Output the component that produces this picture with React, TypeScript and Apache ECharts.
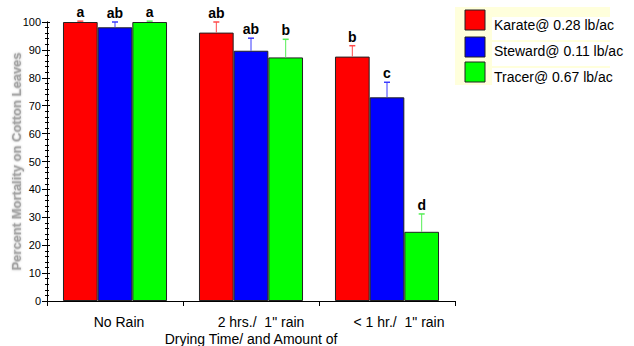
import React, { useEffect, useRef } from "react";
import * as echarts from "echarts";

const categories = ["No Rain", '2 hrs./  1" rain', '< 1 hr./  1" rain'];
const labelShift = [8, 20, 24];
const seriesNames = ["Karate@ 0.28 lb/ac", "Steward@ 0.11 lb/ac", "Tracer@ 0.67 lb/ac"];
const karate = [100, 96.2, 87.6];
const steward = [98.1, 89.7, 73.0];
const tracer = [100, 87.3, 24.8];
const karateErr = [0.3, 3.8, 3.9];
const stewardErr = [1.9, 4.5, 5.4];
const tracerErr = [0.3, 6.5, 6.4];
const karateLetters = ["a", "ab", "b"];
const stewardLetters = ["ab", "ab", "c"];
const tracerLetters = ["a", "b", "d"];
const yTicks = { min: 0, max: 100, interval: 10 };

const barColors = ["#ff0000", "#0000ff", "#00ff00"];
const errColors = ["#ff4a4a", "#3a3aff", "#55ee55"];
const FONT = "'Liberation Sans', Arial, sans-serif";
const CAT_GAP = 0.235;

// legend box layout (pixels)
const LEG = { x: 455, y: 7, w: 155, h: 78, swX: 465, swTop: [10, 37, 62], rowTop: [17, 42, 68], rowH: [23, 24, 17], textX: 494, textY: [25, 51, 77] };

export default function App() {
  const ref = useRef<HTMLDivElement>(null);
  useEffect(() => {
    document.body.style.margin = "0";
    const chart = echarts.init(ref.current!, null, { renderer: "svg" });
    const values = [karate, steward, tracer];
    const errs = [karateErr, stewardErr, tracerErr];
    const letters = [karateLetters, stewardLetters, tracerLetters];

    const bars = values.map((vals, i) => ({
      type: "bar",
      name: seriesNames[i],
      data: vals,
      barGap: "0%",
      barCategoryGap: CAT_GAP * 100 + "%",
      itemStyle: { color: barColors[i], borderColor: "#222", borderWidth: 1 },
      z: 2,
    }));

    const errSeries = values.map((vals, i) => ({
      type: "custom",
      name: "err" + i,
      data: vals.map((v, k) => [k, v, errs[i][k]]),
      encode: { x: 0, y: 1 },
      z: 5,
      clip: false,
      renderItem: (params: any, api: any) => {
        const ci = api.value(0);
        const v = api.value(1);
        const e = api.value(2);
        const base = api.coord([ci, v]);
        const top = api.coord([ci, v + e]);
        const band = api.size([1, 0])[0];
        const bw = (band * (1 - CAT_GAP)) / 3;
        const cx = base[0] + (i - 1) * bw;
        return {
          type: "group",
          children: [
            {
              type: "line",
              shape: { x1: cx, y1: base[1], x2: cx, y2: top[1] },
              style: { stroke: errColors[i], lineWidth: 1 },
            },
            {
              type: "line",
              shape: { x1: cx - 3, y1: top[1], x2: cx + 3, y2: top[1] },
              style: { stroke: errColors[i], lineWidth: 1.5 },
            },
            {
              type: "text",
              x: cx,
              y: top[1] - 2,
              style: {
                text: letters[i][params.dataIndex],
                textAlign: "center",
                textVerticalAlign: "bottom",
                align: "center",
                verticalAlign: "bottom",
                font: "bold 14px " + FONT,
                fill: "#000",
              },
            },
          ],
        };
      },
    }));

    const legendGraphics: any[] = [
      { type: "rect", shape: { x: LEG.x, y: LEG.y, width: LEG.w, height: LEG.h }, style: { fill: "#ffffdc" }, z: 10 },
    ];
    seriesNames.forEach((name, i) => {
      legendGraphics.push({
        type: "rect",
        shape: { x: 492, y: LEG.rowTop[i], width: LEG.x + LEG.w - 492, height: LEG.rowH[i] },
        style: { fill: "#ffffff" },
        z: 11,
      });
      legendGraphics.push({
        type: "rect",
        shape: { x: LEG.swX, y: LEG.swTop[i], width: 20, height: 20 },
        style: { fill: barColors[i], stroke: "#222", lineWidth: 1 },
        z: 12,
      });
      legendGraphics.push({
        type: "text",
        x: LEG.textX,
        y: LEG.textY[i],
        style: {
          text: name,
          font: "14px " + FONT,
          fill: "#000",
          textVerticalAlign: "middle",
          verticalAlign: "middle",
          textAlign: "left",
          align: "left",
        },
        z: 13,
      });
    });

    const yBase = {
      type: "value",
      min: yTicks.min,
      max: yTicks.max,
      interval: yTicks.interval,
      position: "left",
      splitLine: { show: false },
      axisLine: { show: true, lineStyle: { color: "#000", width: 1 } },
    };

    chart.setOption({
      animation: false,
      textStyle: { fontFamily: FONT },
      grid: { left: 47, right: 179, top: 22, bottom: 45, containLabel: false, outerBoundsMode: "none" },
      graphic: legendGraphics,
      xAxis: {
        type: "category",
        data: categories.map((c, k) => ({
          value: c,
          textStyle: { padding: [0, 0, 0, labelShift[k]] },
        })),
        axisLine: { show: true, lineStyle: { color: "#000", width: 1 } },
        axisTick: { show: true, length: 5, lineStyle: { color: "#000" } },
        axisLabel: { fontSize: 14, color: "#000", margin: 14, fontFamily: FONT },
        name: "Drying Time/ and Amount of",
        nameLocation: "middle",
        nameGap: 31,
        nameMoveOverlap: false,
        nameTextStyle: { fontSize: 14, color: "#000", fontFamily: FONT },
      },
      yAxis: [
        {
          ...yBase,
          axisTick: { show: true, length: 5, lineStyle: { color: "#000" } },
          minorTick: { show: true, splitNumber: 5, length: 2, lineStyle: { color: "#000" } },
          axisLabel: { fontSize: 11, color: "#000", margin: 6, fontFamily: FONT },
          name: "Percent Mortality on Cotton Leaves",
          nameLocation: "middle",
          nameGap: 24,
          nameMoveOverlap: false,
          nameTextStyle: {
            fontSize: 13,
            fontWeight: "bold",
            color: "#a2a2a2",
            fontFamily: FONT,
            textShadowColor: "rgba(120,120,120,0.5)",
            textShadowBlur: 2,
          },
        },
        {
          ...yBase,
          axisTick: { show: true, inside: true, length: 3, lineStyle: { color: "#000" } },
          minorTick: { show: true, splitNumber: 5, length: 2, lineStyle: { color: "#000" } },
          axisLabel: { show: false },
        },
      ],
      series: [...bars, ...errSeries],
    });
    return () => chart.dispose();
  }, []);
  return <div ref={ref} style={{ width: 634, height: 346 }} />;
}
